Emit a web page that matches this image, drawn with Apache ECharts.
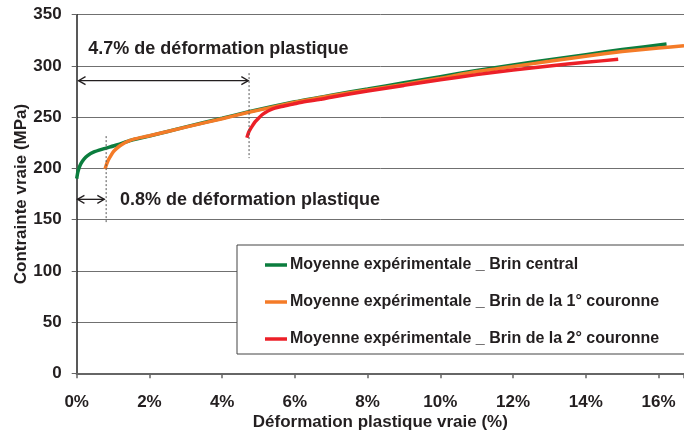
<!DOCTYPE html>
<html>
<head>
<meta charset="utf-8">
<script src="https://cdn.jsdelivr.net/npm/echarts@6/dist/echarts.min.js"></script>
<style>
  html, body { margin: 0; padding: 0; background: #fff; }
  #chart { width: 684px; height: 432px; }
</style>
</head>
<body>
<div id="chart"></div>
<script>
// courbes contrainte / deformation plastique (x en %, y en MPa)
var brinCentral = [
  [0, 190], [0.03, 196], [0.07, 201], [0.12, 205], [0.2, 209], [0.3, 212.5],
  [0.46, 215.9], [0.73, 219], [1.1, 222.8], [1.5, 227.5], [2, 231.6], [3, 240.5],
  [4, 249], [4.7, 255], [6, 265], [7, 271.5], [8, 277.5], [9, 283.5], [10, 289.5],
  [11, 295.5], [12, 301], [13, 306], [14, 311], [15, 316], [16.22, 321.4]
]
var brinCouronne1 = [
  [0.78, 199.5], [0.82, 204], [0.87, 208.2], [0.94, 212.5], [1.01, 216.3],
  [1.1, 219.5], [1.19, 222.1], [1.3, 224.6], [1.42, 226.7], [1.6, 228.8],
  [2, 231.8], [3, 240.3], [4, 248.5], [4.7, 254.5], [6, 264.5], [7, 271],
  [8, 276.5], [9, 282], [10, 288], [11, 294.5], [12, 299.5], [13, 304.5],
  [14, 309.5], [15, 314], [16, 317.5], [16.7, 319.6]
]
var brinCouronne2 = [
  [4.68, 230], [4.72, 234.5], [4.77, 238.1], [4.84, 242], [4.91, 245.6],
  [5, 249], [5.09, 252.1], [5.2, 254.8], [5.32, 257], [5.45, 258.8],
  [5.6, 260.2], [5.8, 261.7], [5.96, 262.8], [6.15, 264.3], [6.7, 267.4],
  [7, 269.5], [8, 275.5], [9, 281], [10, 286.5], [11, 291.5], [12, 296],
  [13, 300], [14, 303.5], [14.89, 306.5]
]
var seriesNames = [
  'Moyenne expérimentale _ Brin central',
  'Moyenne expérimentale _ Brin de la 1° couronne',
  'Moyenne expérimentale _ Brin de la 2° couronne'
]
var yTicks = [0, 50, 100, 150, 200, 250, 300, 350]

// annotations (coordonnees en donnees)
var note47 = { text: '4.7% de déformation plastique', x: 0.32, y: 316.5, arrowY: 285.6, from: 0.05, to: 4.72, dashX: 4.74, dashTop: 293, dashBottom: 210 }
var note08 = { text: '0.8% de déformation plastique', x: 1.19, y: 169, arrowY: 169.8, from: 0.02, to: 0.76, dashX: 0.81, dashTop: 231.5, dashBottom: 146.5 }

var font = '"Liberation Sans", Arial, sans-serif'
var colors = ['#0b7d3e', '#f47b28', '#ec2028']

var chart = echarts.init(document.getElementById('chart'))

function makeSeries(name, data, color) {
  return {
    name: name,
    type: 'line',
    data: data,
    symbol: 'none',
    smooth: 0.2,
    lineStyle: { color: color, width: 3.5 },
    itemStyle: { color: color }
  }
}

chart.setOption({
  animation: false,
  textStyle: { fontFamily: font },
  grid: { left: 76.7, right: 0, top: 14.7, bottom: 58.7, containLabel: false, outerBoundsMode: 'none' },
  legend: {
    orient: 'vertical',
    left: 237,
    top: 245,
    data: seriesNames,
    icon: 'rect',
    backgroundColor: '#fff',
    borderColor: '#444',
    borderWidth: 1,
    borderRadius: 0,
    padding: [12, 60, 7, 28],
    itemGap: 21,
    itemWidth: 22,
    itemHeight: 3.5,
    textStyle: { fontFamily: font, fontWeight: 'bold', fontSize: 16, color: '#231f20', padding: [0, 0, 0, -2] }
  },
  xAxis: {
    type: 'value',
    min: 0,
    max: 16.7,
    interval: 2,
    name: 'Déformation plastique vraie (%)',
    nameLocation: 'middle',
    nameGap: 41,
    nameMoveOverlap: false,
    nameTextStyle: { fontFamily: font, fontWeight: 'bold', fontSize: 17, color: '#231f20' },
    axisLine: { show: true, lineStyle: { color: '#666', width: 2 } },
    axisTick: { show: true, length: 5, lineStyle: { color: '#666', width: 1.5 } },
    splitLine: { show: false },
    axisLabel: {
      margin: 21,
      fontFamily: font, fontWeight: 'bold', fontSize: 17, color: '#231f20',
      formatter: function (v) { return v % 2 === 0 ? v + '%' : '' }
    }
  },
  yAxis: {
    type: 'value',
    min: yTicks[0],
    max: yTicks[yTicks.length - 1],
    interval: 50,
    name: 'Contrainte vraie (MPa)',
    nameLocation: 'middle',
    nameGap: 47,
    nameMoveOverlap: false,
    nameTextStyle: { fontFamily: font, fontWeight: 'bold', fontSize: 17, color: '#231f20' },
    axisLine: { show: true, lineStyle: { color: '#222', width: 1.5 } },
    axisTick: { show: true, length: 5, lineStyle: { color: '#666' } },
    splitLine: { show: true, lineStyle: { color: '#707070', width: 1 } },
    axisLabel: { margin: 15, fontFamily: font, fontWeight: 'bold', fontSize: 17, color: '#231f20' }
  },
  series: [
    makeSeries(seriesNames[0], brinCentral, colors[0]),
    makeSeries(seriesNames[1], brinCouronne1, colors[1]),
    makeSeries(seriesNames[2], brinCouronne2, colors[2])
  ]
})

function px(x, y) {
  return chart.convertToPixel({ gridIndex: 0 }, [x, y])
}

function noteGraphics(n) {
  var a = px(n.from, n.arrowY), b = px(n.to, n.arrowY)
  var t = px(n.x, n.y)
  var d1 = px(n.dashX, n.dashTop), d2 = px(n.dashX, n.dashBottom)
  var ah = 7, aw = 4
  var stroke = { stroke: '#231f20', lineWidth: 1.3, fill: null }
  return [
    { type: 'line', shape: { x1: a[0], y1: a[1], x2: b[0], y2: b[1] }, style: stroke, z: 50 },
    { type: 'polyline', shape: { points: [[a[0] + ah, a[1] - aw], [a[0], a[1]], [a[0] + ah, a[1] + aw]] }, style: stroke, z: 50 },
    { type: 'polyline', shape: { points: [[b[0] - ah, b[1] - aw], [b[0], b[1]], [b[0] - ah, b[1] + aw]] }, style: stroke, z: 50 },
    { type: 'line', shape: { x1: d1[0], y1: d1[1], x2: d2[0], y2: d2[1] }, style: { stroke: '#555', lineWidth: 1, lineDash: [2, 2] }, z: 50 },
    { type: 'text', x: t[0], y: t[1], style: { text: n.text, font: 'bold 18px ' + font, fill: '#231f20', verticalAlign: 'middle' }, z: 50 }
  ]
}

chart.setOption({ graphic: noteGraphics(note47).concat(noteGraphics(note08)) })
</script>
</body>
</html>
